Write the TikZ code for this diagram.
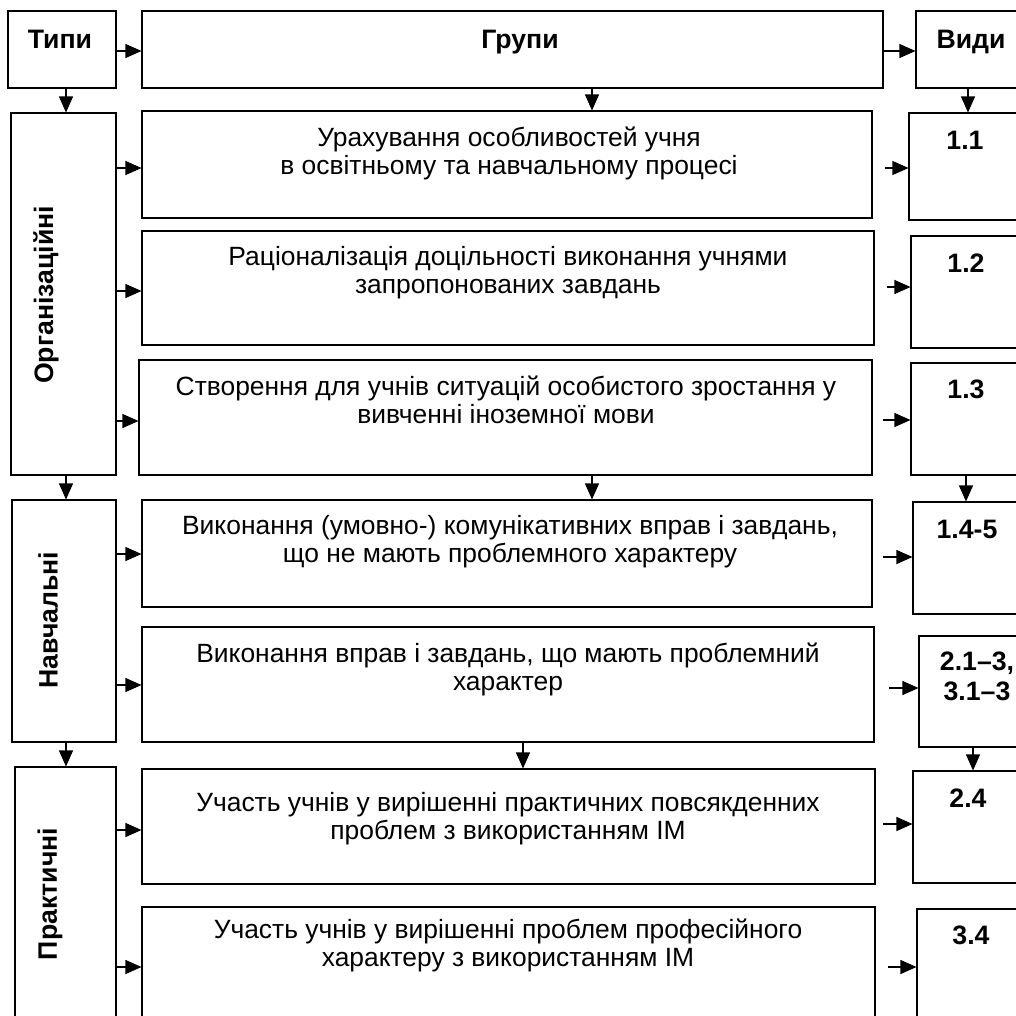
\documentclass[tikz,border=0pt]{standalone}
\usepackage{fontspec}
\setmainfont{Liberation Sans}
\usetikzlibrary{arrows.meta,fit}
\tikzset{
  box/.style={draw, line width=0.8pt, inner sep=0pt},
  arr/.style={-{Triangle[length=12pt,width=10.5pt]}, line width=0.8pt},
  body/.style={font=\fontsize{19.8}{21}\selectfont, align=center, anchor=base, inner sep=0pt},
  head/.style={font=\fontsize{20}{22.5}\selectfont\bfseries, align=center, anchor=base, inner sep=0pt},
  vert/.style={font=\fontsize{20}{22}\selectfont\bfseries, rotate=90, inner sep=0pt},
}
\begin{document}
\begin{tikzpicture}[x=0.75pt,y=-0.75pt]
\useasboundingbox (0,0) rectangle (1016,1015);
\clip (0,0) rectangle (1016,1015);
% top row
\node[box, fit={(8,11)(116,88)}] (tipy) {};
\node[box, fit={(142,11)(883,88)}] (grupy) {};
\node[box, fit={(916,11)(1026,88)}] (vydy) {};
\node[head] at (60,48) {Типи};
\node[head] at (520,48) {Групи};
\node[head] at (971,48) {Види};
% left column
\node[box, fit={(11,113)(116,475)}] (org) {};
\node[box, fit={(12,500)(116,742)}] (nav) {};
\node[box, fit={(15,767)(116,1021)}] (prak) {};
\node[vert] at (46,295) {Організаційні};
\node[vert] at (48,620) {Навчальні};
\node[vert] at (50,894) {Практичні};
% middle column
\node[box, fit={(142,111)(872,218)}] (g1) {};
\node[box, fit={(142,231)(874,345)}] (g2) {};
\node[box, fit={(139,360)(872,475)}] (g3) {};
\node[box, fit={(142,500)(872,607)}] (g4) {};
\node[box, fit={(142,627)(874,742)}] (g5) {};
\node[box, fit={(142,769)(875,884)}] (g6) {};
\node[box, fit={(142,907)(875,1021)}] (g7) {};
\node[body] at (509,174) {Урахування особливостей учня\\в освітньому та навчальному процесі};
\node[body] at (508,293) {Раціоналізація доцільності виконання учнями\\запропонованих завдань};
\node[body] at (506,423) {Створення для учнів ситуацій особистого зростання у\\вивченні іноземної мови};
\node[body] at (510,562) {Виконання (умовно-) комунікативних вправ і завдань,\\що не мають проблемного характеру};
\node[body] at (508,690) {Виконання вправ і завдань, що мають проблемний\\характер};
\node[body] at (508,839) {Участь учнів у вирішенні практичних повсякденних\\проблем з використанням ІМ};
\node[body] at (508,966) {Участь учнів у вирішенні проблем професійного\\характеру з використанням ІМ};
% right column
\node[box, fit={(909,113)(1021,220)}] (r1) {};
\node[box, fit={(911,236)(1021,348)}] (r2) {};
\node[box, fit={(911,363)(1021,475)}] (r3) {};
\node[box, fit={(913,502)(1021,614)}] (r4) {};
\node[box, fit={(919,636)(1035,747)}] (r5) {};
\node[box, fit={(913,771)(1021,883)}] (r6) {};
\node[box, fit={(917,909)(1021,1025)}] (r7) {};
\node[head] at (965,149) {1.1};
\node[head] at (966,272) {1.2};
\node[head] at (966,398) {1.3};
\node[head] at (967,538) {1.4-5};
\node[head] at (977,700) {2.1–3,\\3.1–3};
\node[head] at (968,807) {2.4};
\node[head] at (971,944) {3.4};
% top arrows
\draw[arr] (tipy.east |- 0,51) -- (grupy.west |- 0,51);
\draw[arr] (grupy.east |- 0,51) -- (vydy.west |- 0,51);
\draw[arr] (tipy.south -| 66,0) -- (org.north -| 66,0);
\draw[arr] (grupy.south -| 592,0) -- (g1.north -| 592,0);
\draw[arr] (vydy.south -| 968,0) -- (r1.north -| 968,0);
% vertical arrows
\draw[arr] (org.south -| 66,0) -- (nav.north -| 66,0);
\draw[arr] (nav.south -| 66,0) -- (prak.north -| 66,0);
\draw[arr] (g3.south -| 592,0) -- (g4.north -| 592,0);
\draw[arr] (g5.south -| 523,0) -- (g6.north -| 523,0);
\draw[arr] (r3.south -| 966,0) -- (r4.north -| 966,0);
\draw[arr] (r5.south -| 973,0) -- (r6.north -| 973,0);
% left to middle
\draw[arr] (org.east |- 0,168) -- (g1.west |- 0,168);
\draw[arr] (org.east |- 0,291) -- (g2.west |- 0,291);
\draw[arr] (org.east |- 0,421) -- (g3.west |- 0,421);
\draw[arr] (nav.east |- 0,554) -- (g4.west |- 0,554);
\draw[arr] (nav.east |- 0,685) -- (g5.west |- 0,685);
\draw[arr] (prak.east |- 0,830) -- (g6.west |- 0,830);
\draw[arr] (prak.east |- 0,967) -- (g7.west |- 0,967);
% middle to right (free start points)
\coordinate (s1) at (885,168);
\coordinate (s2) at (887,287);
\coordinate (s3) at (883,420);
\coordinate (s4) at (883,557);
\coordinate (s5) at (889,688);
\coordinate (s6) at (883,824);
\coordinate (s7) at (888,967);
\draw[arr] (s1) -- (r1.west |- s1);
\draw[arr] (s2) -- (r2.west |- s2);
\draw[arr] (s3) -- (r3.west |- s3);
\draw[arr] (s4) -- (r4.west |- s4);
\draw[arr] (s5) -- (r5.west |- s5);
\draw[arr] (s6) -- (r6.west |- s6);
\draw[arr] (s7) -- (r7.west |- s7);
\end{tikzpicture}
\end{document}
